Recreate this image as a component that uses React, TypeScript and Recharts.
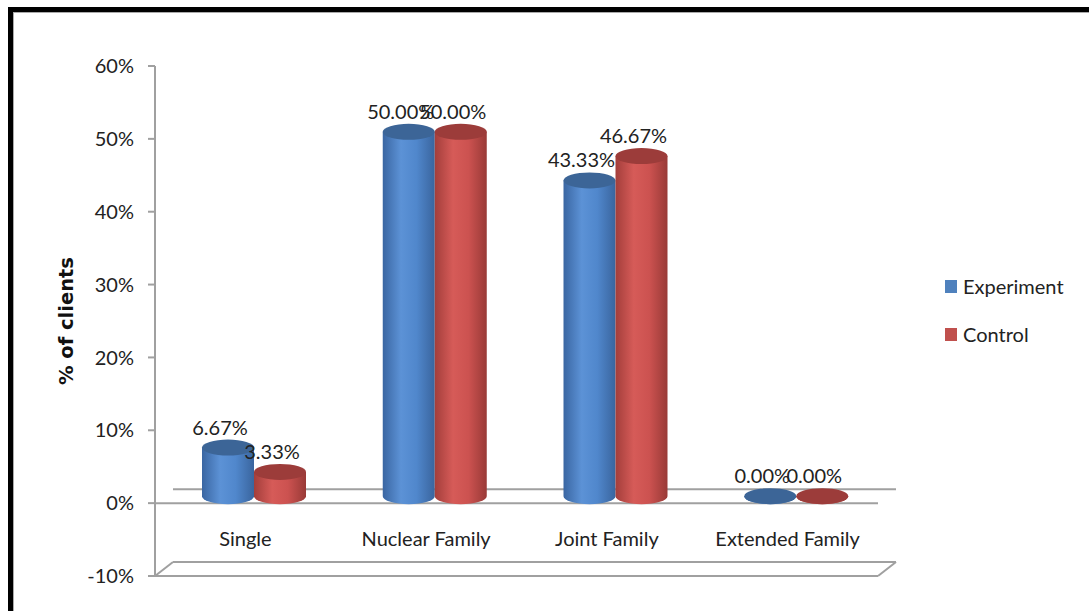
import React from 'react';
import {
  Bar,
  BarChart,
  LabelList,
  ReferenceLine,
  XAxis,
  YAxis,
} from 'recharts';

const categories = ['Single', 'Nuclear Family', 'Joint Family', 'Extended Family'];
const experiment = [0.0667, 0.5, 0.4333, 0];
const control = [0.0333, 0.5, 0.4667, 0];
const yTicks = [-0.1, 0, 0.1, 0.2, 0.3, 0.4, 0.5, 0.6];

const data = categories.map((name, i) => ({
  name,
  experiment: experiment[i],
  control: control[i],
}));

const FONT = 'Lato, "Open Sans", sans-serif';
const TEXT = '#222222';
const GRID = '#a0a0a0';

// fake 3D depth: back plane sits up/right of the front plane
const DEPTH_X = 18;
const DEPTH_Y = 14;

const pct = (v: number) => `${(v * 100).toFixed(2)}%`;

const SERIES = {
  experiment: { base: '#4f81bd', top: '#3c6597', grad: 'gradBlue' },
  control: { base: '#c0504d', top: '#9c3c3a', grad: 'gradRed' },
};

function Cylinder(props: any, key: 'experiment' | 'control') {
  const { x, y, width, height } = props;
  const s = SERIES[key];
  const rx = width / 2;
  const ry = 8;
  const left = x + DEPTH_X / 2;
  const right = left + width;
  const cx = left + rx;
  const topY = y - DEPTH_Y / 2;
  const botY = y + height - DEPTH_Y / 2;
  return (
    <g>
      <path
        d={`M${left},${topY} L${left},${botY} A${rx},${ry} 0 0 0 ${right},${botY} L${right},${topY} Z`}
        fill={`url(#${s.grad})`}
      />
      <ellipse cx={cx} cy={topY} rx={rx} ry={ry} fill={s.top} />
    </g>
  );
}

function ValueLabel(props: any) {
  const { x, y, width, value } = props;
  return (
    <text
      x={x + width / 2 + DEPTH_X / 2 - 8}
      y={y - 28}
      textAnchor="middle"
      dominantBaseline="central"
      fontFamily={FONT}
      fontSize={20}
      fill={TEXT}
    >
      {pct(value)}
    </text>
  );
}

function CategoryTick(props: any) {
  const { x, y, payload } = props;
  return (
    <text
      x={x}
      y={y - 38}
      textAnchor="middle"
      dominantBaseline="central"
      fontFamily={FONT}
      fontSize={20}
      fill={TEXT}
    >
      {payload.value}
    </text>
  );
}

// front edge + back edge of a floor plane, optionally closed at the sides
function floorShape(closed: boolean) {
  return (props: any) => {
    const { x1, y1, x2 } = props;
    return (
      <g stroke={GRID} strokeWidth={2} fill="none">
        <line x1={x1} y1={y1} x2={x2} y2={y1} />
        <line x1={x1 + DEPTH_X} y1={y1 - DEPTH_Y} x2={x2 + DEPTH_X} y2={y1 - DEPTH_Y} />
        {closed && (
          <>
            <line x1={x1} y1={y1} x2={x1 + DEPTH_X} y2={y1 - DEPTH_Y} />
            <line x1={x2} y1={y1} x2={x2 + DEPTH_X} y2={y1 - DEPTH_Y} />
          </>
        )}
      </g>
    );
  };
}

function LegendBox() {
  const items = [
    { label: 'Experiment', color: SERIES.experiment.base },
    { label: 'Control', color: SERIES.control.base },
  ];
  return (
    <div style={{ position: 'absolute', left: 945, top: 272 }}>
      {items.map((it) => (
        <div key={it.label} style={{ display: 'flex', alignItems: 'center', height: 28, marginBottom: 20 }}>
          <span style={{ width: 12, height: 13, background: it.color, marginRight: 6 }} />
          <span style={{ fontFamily: FONT, fontSize: 20, color: TEXT }}>{it.label}</span>
        </div>
      ))}
    </div>
  );
}

export default function App() {
  return (
    <div
      style={{
        position: 'fixed',
        left: 0,
        top: 0,
        width: 1089,
        height: 611,
        background: '#fff',
        overflow: 'hidden',
      }}
    >
      <div
        style={{
          position: 'absolute',
          left: 8,
          top: 7,
          width: 1100,
          height: 600,
          borderTop: '5px solid #000',
          borderLeft: '5px solid #000',
          borderBottom: '2px solid #c4c4c4',
        }}
      >
        <div style={{ position: 'absolute', inset: 0, borderTop: '1px solid #aaa', borderLeft: '1px solid #aaa' }} />
      </div>

      <div style={{ position: 'absolute', left: 0, top: 0 }}>
        <BarChart
          width={1089}
          height={611}
          data={data}
          margin={{ top: 66, right: 211, bottom: 5, left: 50 }}
          barSize={52}
          barGap={0}
        >
          <defs>
            <linearGradient id="gradBlue" x1="0" y1="0" x2="1" y2="0">
              <stop offset="0" stopColor="#3a66a2" />
              <stop offset="0.35" stopColor="#5c92d6" />
              <stop offset="0.65" stopColor="#5087cc" />
              <stop offset="1" stopColor="#3a659e" />
            </linearGradient>
            <linearGradient id="gradRed" x1="0" y1="0" x2="1" y2="0">
              <stop offset="0" stopColor="#a33e3b" />
              <stop offset="0.35" stopColor="#d65b58" />
              <stop offset="0.65" stopColor="#cc5250" />
              <stop offset="1" stopColor="#993a37" />
            </linearGradient>
          </defs>

          {/* floor planes go under the cylinders */}
          <ReferenceLine y={-0.1} shape={floorShape(true)} zIndex={0} />
          <ReferenceLine y={0} shape={floorShape(false)} zIndex={0} />

          <XAxis
            dataKey="name"
            height={30}
            axisLine={false}
            tickLine={false}
            tickSize={0}
            tickMargin={0}
            tick={<CategoryTick />}
            interval={0}
          />
          <YAxis
            width={105}
            domain={[-0.1, 0.6]}
            ticks={yTicks}
            tickFormatter={(v: number) => `${Math.round(v * 100)}%`}
            axisLine={{ stroke: GRID, strokeWidth: 2 }}
            tickLine={{ stroke: GRID, strokeWidth: 2 }}
            tickSize={7}
            tickMargin={14}
            tick={{ fontFamily: FONT, fontSize: 20, fill: TEXT }}
            label={{
              value: '% of  clients',
              angle: -90,
              position: 'insideLeft',
              offset: 16,
              style: {
                fontFamily: '"DejaVu Sans", sans-serif',
                fontWeight: 'bold',
                fontSize: 19.5,
                fill: '#111',
                textAnchor: 'middle',
              },
            }}
          />

          <Bar
            dataKey="experiment"
            name="Experiment"
            isAnimationActive={false}
            shape={(p: any) => Cylinder(p, 'experiment')}
          >
            <LabelList dataKey="experiment" content={<ValueLabel />} />
          </Bar>
          <Bar
            dataKey="control"
            name="Control"
            isAnimationActive={false}
            shape={(p: any) => Cylinder(p, 'control')}
          >
            <LabelList dataKey="control" content={<ValueLabel />} />
          </Bar>
        </BarChart>
      </div>

      <LegendBox />
    </div>
  );
}
